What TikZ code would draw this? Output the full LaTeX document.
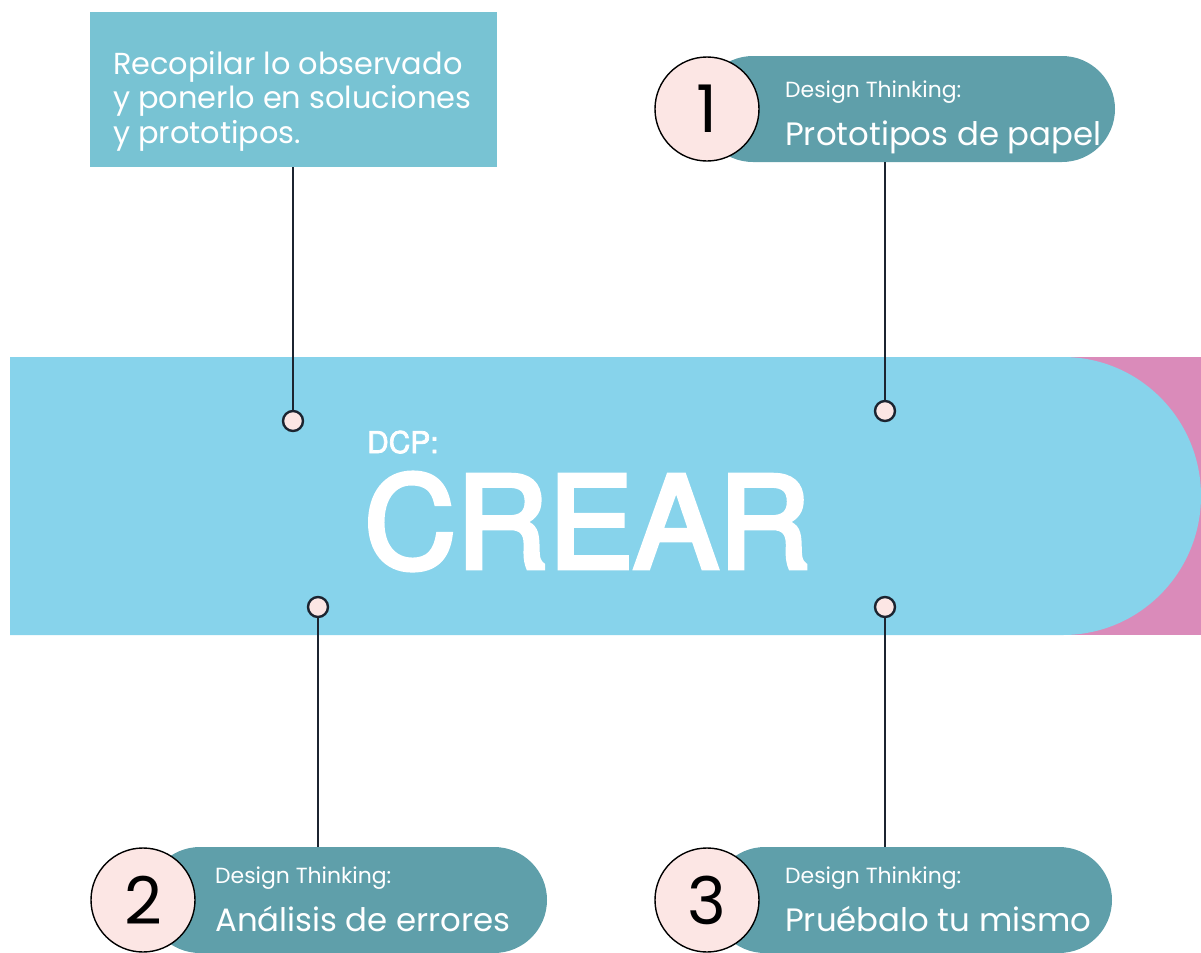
\documentclass[tikz,border=0pt]{standalone}
\usepackage{fontspec}
\setmainfont{Poppins}
\newfontfamily\headfont[FakeBold=2.5]{TeX Gyre Heros}
\newfontfamily\crearfont[FakeBold=3.6]{TeX Gyre Heros}
\usetikzlibrary{positioning}

\definecolor{bandblue}{HTML}{87D3EB}
\definecolor{bandpink}{HTML}{DA8BBA}
\definecolor{noteblue}{HTML}{78C3D3}
\definecolor{pillteal}{HTML}{5F9FAA}
\definecolor{blush}{HTML}{FCE6E4}
\definecolor{wireink}{HTML}{1C2430}

\tikzset{
  pill/.style={rectangle, fill=pillteal, rounded corners=53bp, minimum height=106bp, inner sep=0pt},
  numcircle/.style={circle, draw=black, line width=1.4bp, fill=blush, minimum size=104bp, inner sep=0pt,
    font=\fontsize{66}{66}\selectfont},
  dot/.style={circle, draw=wireink, line width=2.4bp, fill=blush, minimum size=20bp, inner sep=0pt},
  wire/.style={draw=wireink, line width=2bp},
  smalltxt/.style={text=white, anchor=base west, inner sep=0pt, font=\fontsize{22}{22}\selectfont},
  bigtxt/.style={text=white, anchor=base west, inner sep=0pt, font=\fontsize{32.5}{32.5}\selectfont}
}

\begin{document}
\begin{tikzpicture}[x=1bp, y=-1bp]
    \useasboundingbox (0,0) rectangle (1201,953);

    %the band in the middle
    \fill[bandpink] (1063,357) rectangle (1201,635);
    \fill[bandblue] (10,357) -- (1063,357) arc[start angle=-90, end angle=90, x radius=138, y radius=139] -- (10,635) -- cycle;
    \node[text=white, anchor=base west, inner sep=0pt, font=\headfont\fontsize{30}{30}\selectfont] (dcp) at (367,453) {DCP:};
    \node[text=white, anchor=base west, inner sep=0pt, font=\crearfont\fontsize{128}{128}\selectfont] (crear) at (364,568) {CREAR};

    %note at the top left
    \node[fill=noteblue, minimum width=407bp, minimum height=155bp, inner sep=0pt] (note) at (293.5,89.5) {};
    \node[text=white, anchor=base west, inner sep=0pt, align=left, font=\fontsize{30.5}{34.5}\selectfont] (notetxt) at (113,143)
      {Recopilar lo observado\\y ponerlo en soluciones\\y prototipos.};

    %the three steps
    \node[pill, minimum width=415bp] (p1) at (907.5,109) {};
    \node[numcircle] (n1) at (707,109) {1};
    \node[smalltxt] (p1a) at (785,97) {Design Thinking:};
    \node[bigtxt] (p1b) at (785,145) {Prototipos de papel};

    \node[pill, minimum width=400bp] (p2) at (347,900) {};
    \node[numcircle] (n2) at (143,900) {2};
    \node[smalltxt] (p2a) at (215,883) {Design Thinking:};
    \node[bigtxt] (p2b) at (215,931) {Análisis de errores};

    \node[pill, minimum width=400bp] (p3) at (912,900) {};
    \node[numcircle] (n3) at (707,900) {3};
    \node[smalltxt] (p3a) at (785,883) {Design Thinking:};
    \node[bigtxt] (p3b) at (785,931) {Pruébalo tu mismo};

    %the dots on the band
    \node[dot] (d0) at (293,421) {};
    \node[dot] (d1) at (885,411) {};
    \node[dot] (d2) at (318,607) {};
    \node[dot] (d3) at (885,607) {};

    %define the links
    \draw[wire] (note.south -| d0) -- (d0);
    \draw[wire] (p1.south -| d1) -- (d1);
    \draw[wire] (p2.north -| d2) -- (d2);
    \draw[wire] (p3.north -| d3) -- (d3);
\end{tikzpicture}
\end{document}
